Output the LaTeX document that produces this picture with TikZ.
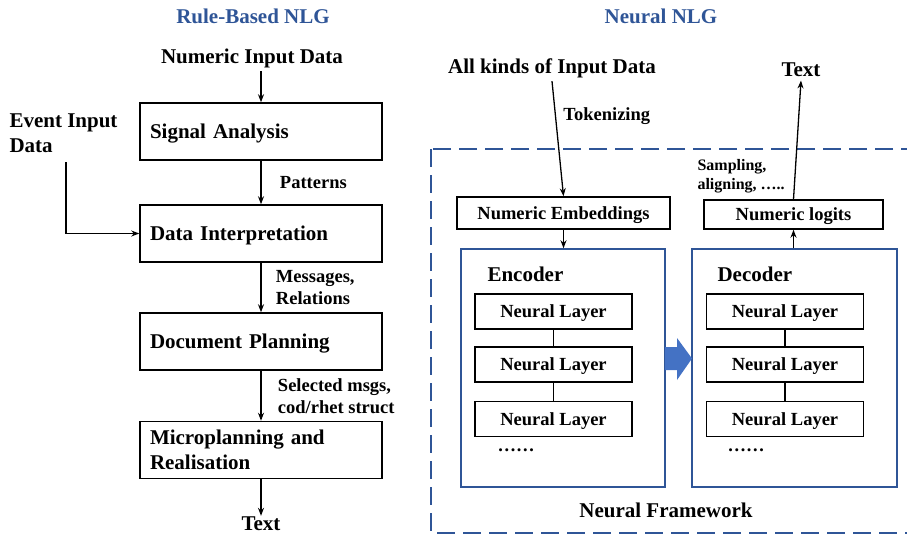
\documentclass[tikz,border=0pt]{standalone}
\usepackage{fontspec}
\setmainfont{Liberation Serif}
\usetikzlibrary{arrows.meta}

\definecolor{titleblue}{RGB}{47,85,151}
\definecolor{frameblue}{RGB}{47,85,151}
\definecolor{arrowblue}{RGB}{68,114,196}

\begin{document}
\begin{tikzpicture}[x=1pt,y=-1pt,font=\bfseries,>={Stealth[length=8pt,width=6pt]}]
\tikzset{
% boxes of the rule-based pipeline and of the neural layers
stage/.style={draw,line width=1.5pt,minimum height=57pt,text width=222pt,inner xsep=10pt,align=left,font=\fontsize{21}{25}\selectfont\bfseries},
flat/.style={text depth=0pt},
layer/.style={draw,line width=1.5pt,minimum width=157pt,minimum height=35pt,inner sep=0pt,flat,font=\fontsize{18.5}{22}\selectfont\bfseries},
coder/.style={draw=frameblue,line width=1.5pt,minimum width=204pt,minimum height=238pt},
big/.style={font=\fontsize{21}{25}\selectfont\bfseries},
small/.style={font=\fontsize{18.5}{22}\selectfont\bfseries,align=left},
title/.style={font=\fontsize{21}{25}\selectfont\bfseries,text=titleblue},
flow/.style={->,line width=1.3pt}
}
\useasboundingbox (0,0) rectangle (907,535);

% Rule-based side
\node[title] (rtitle) at (253,16) {Rule-Based NLG};
\node[big] (numin) at (252,58) {Numeric Input Data};
\node[stage,flat] (sig) at (261,131.5) {Signal Analysis};
\node[stage,flat] (interp) at (261,233.5) {Data Interpretation};
\node[stage,flat] (docplan) at (261,341.5) {Document Planning};
\node[stage] (micro) at (261,450) {Microplanning and\\Realisation};
\node[big,inner sep=1pt] (ltext) at (261,524) {Text};
\node[big,align=left,anchor=west] (event) at (6,133) {Event Input\\Data};
\coordinate (evdrop) at (66,162);

\draw[flow] (numin.south -| sig.north) -- (sig.north);
\draw[flow] (sig) -- (interp) node[midway,right=15pt,small] {Patterns};
\draw[flow] (interp) -- (docplan) node[midway,right=11pt,small] {Messages,\\Relations};
\draw[flow] (docplan) -- (micro) node[midway,right=13pt,small] {Selected msgs,\\cod/rhet struct};
\draw[flow] (micro) -- (ltext);
\draw[flow] (evdrop) |- (interp.west);

% Neural side
\node[title] (ntitle) at (661,16) {Neural NLG};
\node[big] (allin) at (552,68) {All kinds of Input Data};
\draw[frameblue,line width=1.5pt,dash pattern=on 18pt off 8pt] (431,149) rectangle (915,533);
\node[big] (nframe) at (666,510) {Neural Framework};

\node[layer,minimum width=213pt,minimum height=32pt] (embed) at (563.5,213) {Numeric Embeddings};
\node[layer,minimum width=179pt,minimum height=29pt] (logits) at (793.5,214.5) {Numeric logits};

\node[coder] (enc) at (563,368) {};
\node[coder,minimum width=205pt] (dec) at (794.5,368) {};
\node[big,anchor=west] (enclab) at (484,274) {Encoder};
\node[big,anchor=west] (declab) at (714,274) {Decoder};

\foreach \n/\y in {1/311.5,2/364.5,3/419}{
  \node[layer] (e\n) at (553.5,\y) {Neural Layer};
  \node[layer] (d\n) at (785,\y) {Neural Layer};
}
\draw[line width=1.3pt] (e1) -- (e2) (e2) -- (e3);
\draw[line width=1.3pt] (d1) -- (d2) (d2) -- (d3);
\node[small] (edots) at (516,450) {……};
\node[small] (ddots) at (746,450) {……};

% block arrow encoder -> decoder
\fill[arrowblue] (665,347) -- (677,347) -- (677,338) -- (692,358.5) -- (677,380) -- (677,370) -- (665,370) -- cycle;

\node[big] (rtext) at (801,70) {Text};
\node[font=\fontsize{16}{19}\selectfont\bfseries,align=left,anchor=west] (samp) at (694,176) {Sampling,\\aligning, …..};

\draw[flow] (allin.south) -- (embed.north) node[pos=0.3,right=4pt,small] {Tokenizing};
\draw[flow] (embed) -- (enc.north -| embed);
\draw[flow] (dec.north -| logits) -- (logits.south);
\draw[flow] (logits.north) -- (rtext.south);
\end{tikzpicture}
\end{document}
